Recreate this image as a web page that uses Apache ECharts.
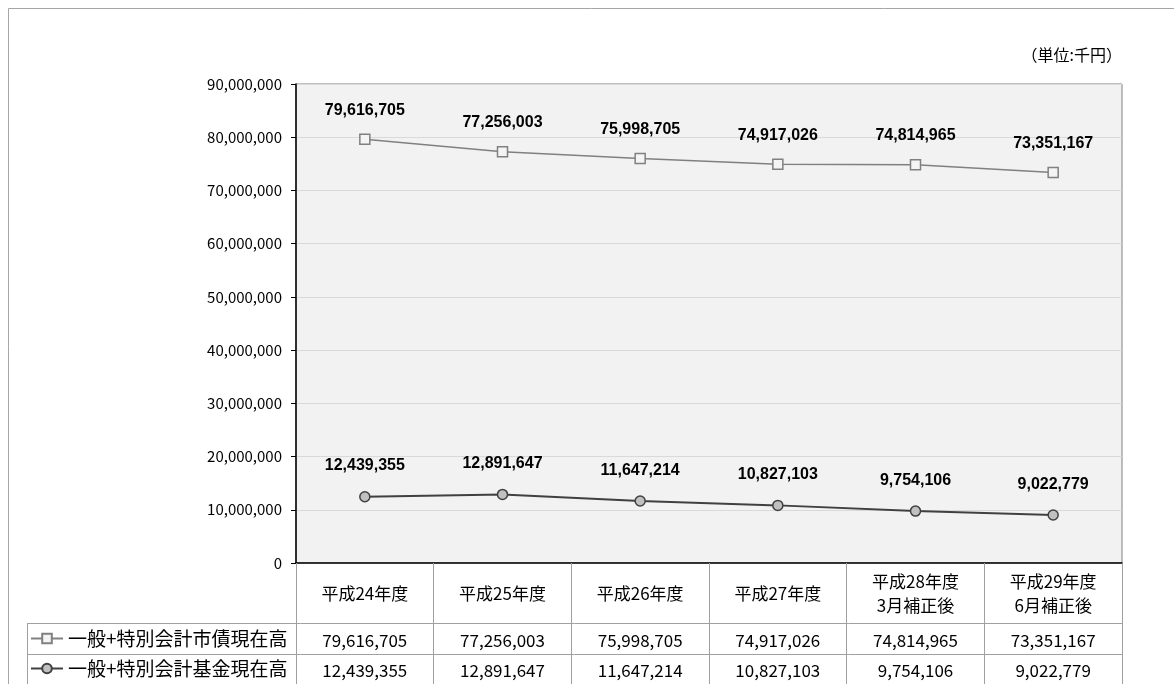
<!DOCTYPE html>
<html>
<head>
<meta charset="utf-8">
<script src="https://cdn.jsdelivr.net/npm/echarts@6/dist/echarts.min.js"></script>
<style>
  html, body { margin: 0; padding: 0; background: #fff; }
  #chart { width: 1174px; height: 684px; }
</style>
</head>
<body>
<div id="chart"></div>
<script>
const categories = ["平成24年度", "平成25年度", "平成26年度", "平成27年度", "平成28年度\n3月補正後", "平成29年度\n6月補正後"];
const debtName = "一般+特別会計市債現在高";
const fundName = "一般+特別会計基金現在高";
const debtValues = [79616705, 77256003, 75998705, 74917026, 74814965, 73351167];
const fundValues = [12439355, 12891647, 11647214, 10827103, 9754106, 9022779];
const unitLabel = "（単位:千円）";

const jpFont = '"Noto Sans CJK JP", "Noto Sans", sans-serif';
const fmt = (v) => Number(v).toLocaleString("en-US");

const gridLeft = 296, gridRight = 52, gridTop = 84, gridBottom = 121;
const W = 1174, H = 684;
const plotRight = W - gridRight;

const chart = echarts.init(document.getElementById("chart"));

const valueAxis = (data, margin) => ({
  type: "category",
  gridIndex: 0,
  position: "bottom",
  data: data.map(fmt),
  axisLine: { show: false },
  axisTick: { show: false },
  axisLabel: {
    margin: margin,
    verticalAlign: "middle",
    color: "#000",
    fontSize: 17,
    fontFamily: jpFont
  }
});

const tableLegend = (name, top) => ({
  orient: "horizontal",
  left: 30,
  top: top,
  padding: 0,
  itemWidth: 32,
  itemHeight: 12,
  data: [name],
  textStyle: { color: "#000", fontSize: 19, fontFamily: jpFont, padding: [0, 0, 0, 0] }
});

const labelStyle = (distance) => ({
  show: true,
  position: "top",
  distance: distance,
  color: "#000",
  fontSize: 16,
  fontWeight: "bold",
  fontFamily: '"Liberation Sans", Arial, sans-serif',
  formatter: (p) => fmt(p.value)
});

const option = {
  animation: false,
  backgroundColor: "#fff",
  grid: {
    left: gridLeft,
    right: gridRight,
    top: gridTop,
    bottom: gridBottom,
    show: true,
    backgroundColor: "#f2f2f2",
    borderColor: "#808080",
    borderWidth: 1
  },
  legend: [tableLegend(debtName, 629), tableLegend(fundName, 659)],
  xAxis: [
    {
      type: "category",
      data: categories,
      boundaryGap: true,
      axisLine: { lineStyle: { color: "#000", width: 1.5 } },
      axisTick: { show: true, length: gridBottom, lineStyle: { color: "#a0a0a0" } },
      axisLabel: {
        margin: 31,
        verticalAlign: "middle",
        color: "#000",
        fontSize: 17,
        lineHeight: 24,
        fontFamily: jpFont
      }
    },
    valueAxis(debtValues, 78),
    valueAxis(fundValues, 108)
  ],
  yAxis: {
    type: "value",
    min: 0,
    max: 90000000,
    interval: 10000000,
    axisLine: { show: true, lineStyle: { color: "#000", width: 1.5 } },
    axisTick: { show: true, length: 5, lineStyle: { color: "#000" } },
    splitLine: { lineStyle: { color: "#d9d9d9" } },
    axisLabel: {
      margin: 14,
      color: "#000",
      fontSize: 15,
      fontFamily: jpFont,
      formatter: fmt
    }
  },
  series: [
    {
      name: debtName,
      type: "line",
      data: debtValues,
      symbol: "rect",
      symbolSize: 10,
      lineStyle: { color: "#808080", width: 1.5 },
      itemStyle: { color: "#f4f4f4", borderColor: "#808080", borderWidth: 1.5 },
      label: labelStyle(15)
    },
    {
      name: fundName,
      type: "line",
      data: fundValues,
      symbol: "circle",
      symbolSize: 10,
      lineStyle: { color: "#404040", width: 2 },
      itemStyle: { color: "#c0c0c0", borderColor: "#404040", borderWidth: 1.5 },
      label: labelStyle(17)
    }
  ],
  graphic: [
    {
      type: "rect",
      shape: { x: 8.5, y: 8.5, width: W, height: H },
      style: { fill: "none", stroke: "#a6a6a6", lineWidth: 1 },
      silent: true
    },
    {
      type: "text",
      right: 52,
      top: 47,
      style: { text: unitLabel, fill: "#000", fontSize: 16, fontFamily: jpFont }
    },
    {
      type: "line",
      shape: { x1: 27, y1: 623.5, x2: plotRight, y2: 623.5 },
      style: { stroke: "#a0a0a0", lineWidth: 1 }
    },
    {
      type: "line",
      shape: { x1: 27, y1: 654.5, x2: plotRight, y2: 654.5 },
      style: { stroke: "#a0a0a0", lineWidth: 1 }
    },
    {
      type: "line",
      shape: { x1: 27.5, y1: 623, x2: 27.5, y2: H },
      style: { stroke: "#a0a0a0", lineWidth: 1 }
    }
  ]
};

chart.setOption(option);
</script>
</body>
</html>
